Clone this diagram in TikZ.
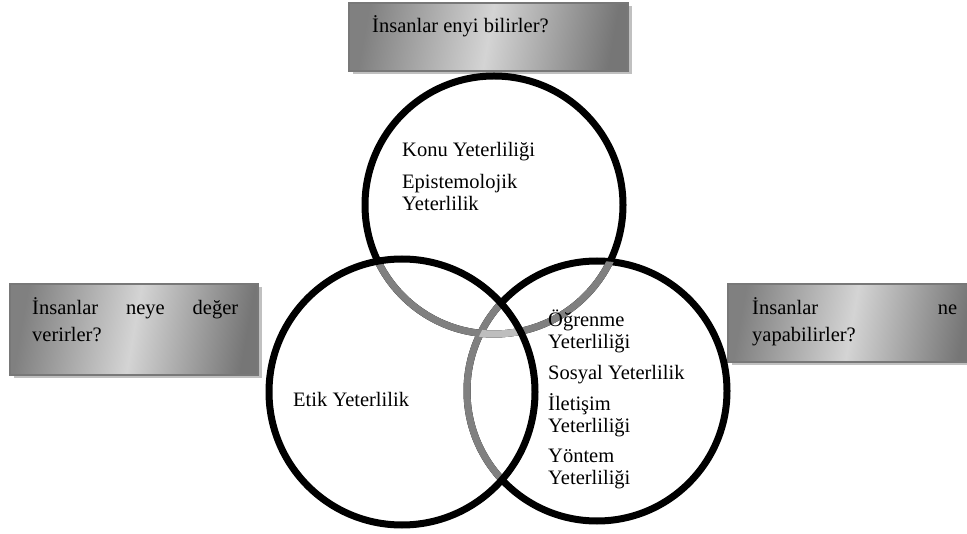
\documentclass[tikz,border=0pt]{standalone}
\usepackage{fontspec}
\setmainfont{Liberation Serif}
\definecolor{boxdark}{RGB}{128,128,128}
\definecolor{boxdarkb}{RGB}{118,118,118}
\definecolor{boxlight}{RGB}{212,212,212}
\definecolor{boxedge}{RGB}{120,120,120}
\definecolor{shadowgray}{RGB}{192,192,192}
\definecolor{arcgray}{RGB}{128,128,128}
\definecolor{arclight}{RGB}{190,190,190}
\tikzset{
  ring/.style={line width=7pt},
  qbox/.style={draw=boxedge, line width=2pt, left color=boxdark, right color=boxdarkb, middle color=boxlight, shading angle=80},
  qshadow/.style={fill=shadowgray},
  lbl/.style={anchor=base west, inner sep=0pt, font=\fontsize{20.5}{21.5}\selectfont},
  qlbl/.style={anchor=base west, inner sep=0pt, font=\fontsize{20.5}{27}\selectfont},
}
\begin{document}
\begin{tikzpicture}[x=1pt,y=-1pt]
\useasboundingbox (0,0) rectangle (967,534);
% circle centres
\coordinate (ct) at (494,205);
\coordinate (cl) at (402,392);
\coordinate (cr) at (597,391);
% question boxes
\fill[qshadow] (353,6) rectangle (632,74);
\shade[qbox] (349,3) rectangle (628,71);
\fill[qshadow] (14,287) rectangle (262,378);
\shade[qbox] (10,284) rectangle (258,375);
\fill[qshadow] (732,287) rectangle (980,365);
\shade[qbox] (728,284) rectangle (976,362);
% circles
\draw[ring] (ct) circle[radius=129];
\draw[ring] (cr) circle[radius=130];
\begin{scope}
  \clip (cl) circle[radius=133];
  \draw[ring, arcgray] (ct) circle[radius=129];
  \draw[ring, arcgray] (cr) circle[radius=130];
\end{scope}
\begin{scope}
  \clip (cr) circle[radius=130];
  \draw[ring, arcgray] (ct) circle[radius=129];
  \clip (cl) circle[radius=133];
  \draw[ring, arclight] (ct) circle[radius=129];
\end{scope}
\draw[ring] (cl) circle[radius=133];
% texts
\node[qlbl] (qtop) at (372,33) {İnsanlar enyi bilirler?};
\node[qlbl] (qleft) at (32,315) {\parbox[t]{206pt}{İnsanlar\hfill neye\hfill değer\\verirler?}};
\node[qlbl] (qright) at (752,315) {\parbox[t]{205pt}{İnsanlar\hfill ne\\yapabilirler?}};
\node[lbl] (konu) at (402,157) {Konu Yeterliliği};
\node[lbl] (epis) at (402,189) {\parbox[t]{150pt}{Epistemolojik\\Yeterlilik}};
\node[lbl] (etik) at (293,407) {Etik Yeterlilik};
\node[lbl] (ogren) at (548,327) {\parbox[t]{150pt}{Öğrenme\\Yeterliliği}};
\node[lbl] (sosyal) at (548,380) {Sosyal Yeterlilik};
\node[lbl] (ilet) at (548,411) {\parbox[t]{150pt}{İletişim\\Yeterliliği}};
\node[lbl] (yontem) at (548,463) {\parbox[t]{150pt}{Yöntem\\Yeterliliği}};
\end{tikzpicture}
\end{document}
